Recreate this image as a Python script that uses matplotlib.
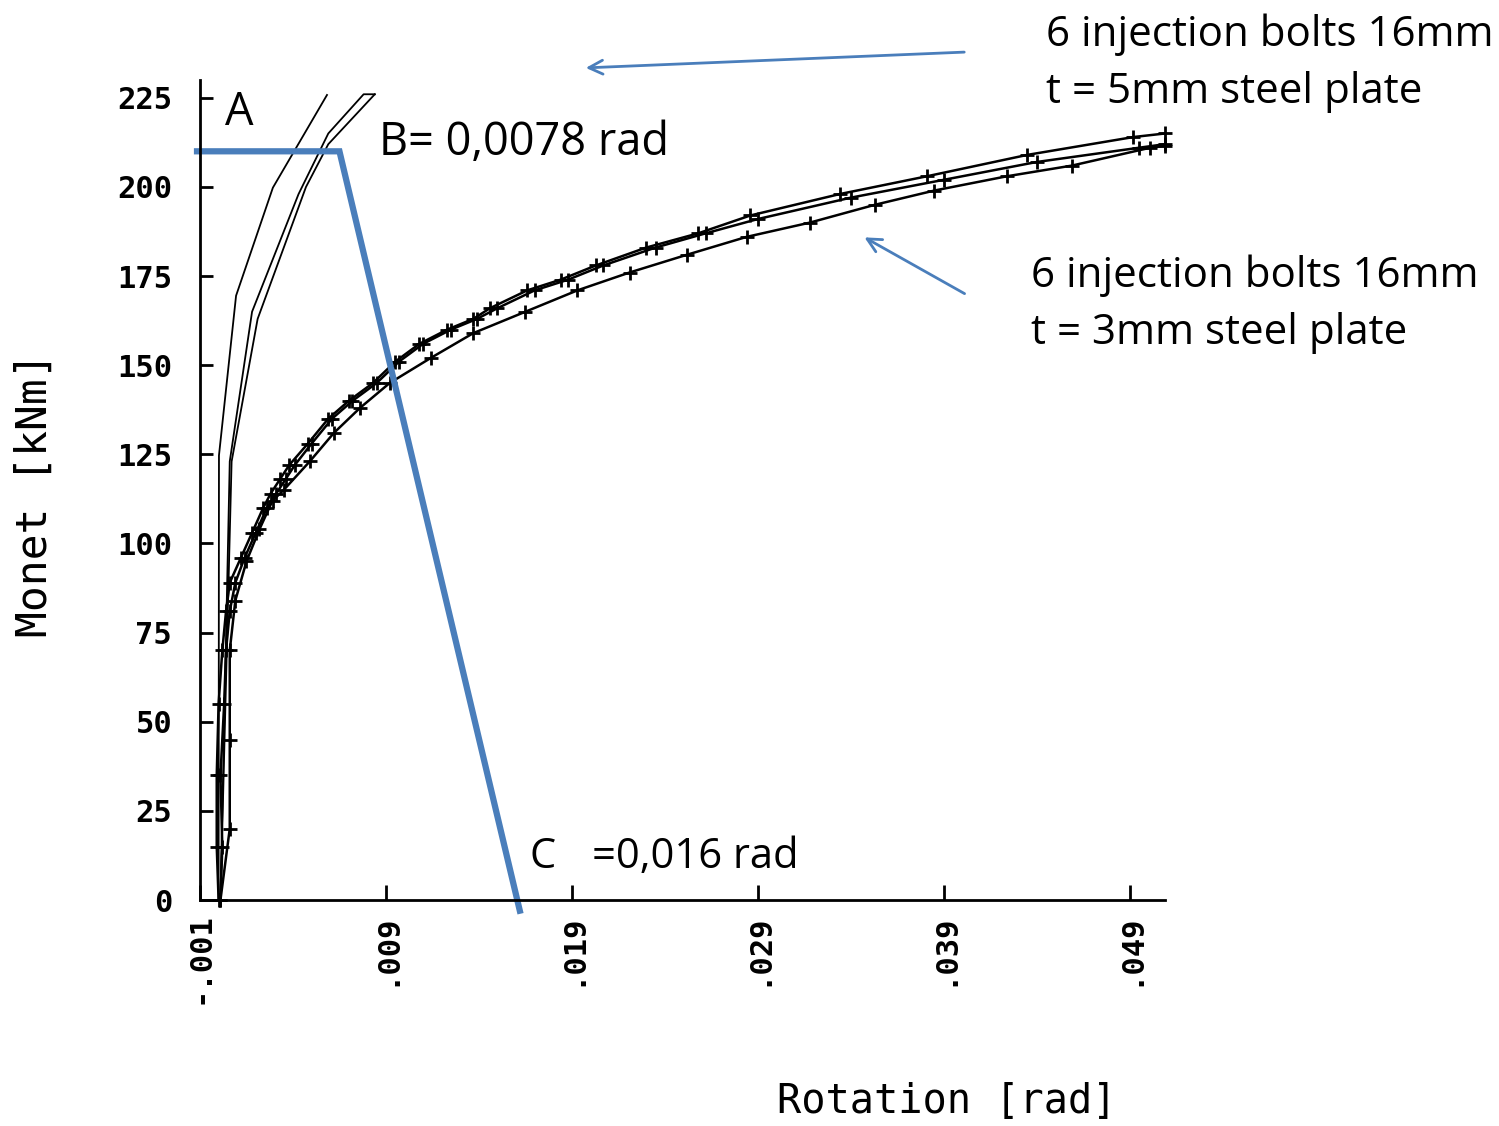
import matplotlib
matplotlib.use('Agg')
import matplotlib.pyplot as plt

# ---- data ----
# 5 mm plate: three curves without markers
p5_a_rot = [0.0, 0.00002, 0.00094, 0.00292, 0.00583]
p5_a_mom = [0, 124.7, 169.5, 199.8, 225.8]
p5_b_rot = [0.0001, 0.0006, 0.0018, 0.0043, 0.0059, 0.0078, 0.0084]
p5_b_mom = [0, 123, 165, 198, 215, 226, 226]
p5_c_rot = [0.0001, 0.0007, 0.0021, 0.0047, 0.0059, 0.0084]
p5_c_mom = [0, 123, 163, 200, 212, 226]

# 3 mm plate: three curves with + markers
p3_a_rot = [0.0, -0.0001, -0.0001, 0.0, 0.0002, 0.0004, 0.0006, 0.0012, 0.0018, 0.0024,
            0.0028, 0.0033, 0.0038, 0.0048, 0.0059, 0.0070, 0.0083, 0.0095, 0.0108, 0.0123,
            0.0137, 0.0146, 0.0166, 0.0184, 0.0203, 0.0230, 0.0258, 0.0286, 0.0334, 0.0381,
            0.0435, 0.0492, 0.0509]
p3_a_mom = [0, 15, 35, 55, 70, 81, 89, 96, 103, 110, 114, 118, 122, 128, 135, 140, 145,
            151, 156, 160, 163, 166, 171, 174, 178, 183, 187, 192, 198, 203, 209, 214, 215]
p3_b_rot = [0.0001, 0.0002, 0.0001, 0.0003, 0.0004, 0.0006, 0.0009, 0.0014, 0.0020, 0.0026,
            0.0031, 0.0036, 0.0041, 0.0050, 0.0061, 0.0072, 0.0085, 0.0097, 0.0110, 0.0125,
            0.0139, 0.0150, 0.0170, 0.0188, 0.0207, 0.0235, 0.0262, 0.0290, 0.0340, 0.0390,
            0.0440, 0.0495, 0.0509]
p3_b_mom = [0, 15, 35, 55, 70, 81, 89, 96, 103, 110, 114, 118, 122, 128, 135, 140, 145,
            151, 156, 160, 163, 166, 171, 174, 178, 183, 187, 191, 197, 202, 207, 211, 212]
p3_c_rot = [0.0001, 0.0006, 0.0006, 0.0006, 0.0009, 0.0015, 0.0022, 0.0029, 0.0035, 0.0049,
            0.0062, 0.0076, 0.0092, 0.0114, 0.0137, 0.0165, 0.0193, 0.0221, 0.0252, 0.0284,
            0.0318, 0.0353, 0.0385, 0.0424, 0.0459, 0.0501, 0.0509]
p3_c_mom = [0, 20, 45, 70, 84, 95, 104, 112, 115, 123, 131, 138, 145, 152, 159, 165, 171,
            176, 181, 186, 190, 195, 199, 203, 206, 211, 211.5]

# blue construction line A-B-C
abc_rot = [-0.00116, 0.0065, 0.0162]
abc_mom = [210, 210, -3]

xtick_vals = [-0.001, 0.009, 0.019, 0.029, 0.039, 0.049]
xtick_labels = ['-.001', '.009', '.019', '.029', '.039', '.049']
ytick_vals = [0, 25, 50, 75, 100, 125, 150, 175, 200, 225]
ytick_labels = ['0', '25', '50', '75', '100', '125', '150', '175', '200', '225']

# ---- figure ----
W, H = 1499, 1126
fig = plt.figure(figsize=(W / 100, H / 100), dpi=100)
ax = fig.add_axes([200 / W, 1 - 900 / H, 965 / W, 820 / H])
ax.set_xlim(-0.001, 0.0509)
ax.set_ylim(0, 230)

for s in ['top', 'right']:
    ax.spines[s].set_visible(False)
for s in ['left', 'bottom']:
    ax.spines[s].set_linewidth(2.0)

for xs, ys in [(p5_a_rot, p5_a_mom), (p5_b_rot, p5_b_mom), (p5_c_rot, p5_c_mom)]:
    ax.plot(xs, ys, color='black', lw=1.3, clip_on=False)
for xs, ys in [(p3_a_rot, p3_a_mom), (p3_b_rot, p3_b_mom), (p3_c_rot, p3_c_mom)]:
    ax.plot(xs, ys, color='black', lw=1.8, marker='+', ms=10, mew=2.0, clip_on=False)

ax.plot(abc_rot, abc_mom, color='#4a7ebb', lw=4.5, clip_on=False, solid_joinstyle='miter')

mono = 'DejaVu Sans Mono'
ax.set_xticks(xtick_vals)
ax.set_xticklabels(xtick_labels, rotation=90, family=mono, fontsize=22, va='top',
                   fontweight='bold')
ax.set_yticks(ytick_vals)
ax.set_yticklabels(ytick_labels, family=mono, fontsize=22, fontweight='bold')
ax.tick_params(axis='x', direction='in', length=11, width=2, pad=9)
ax.tick_params(axis='y', direction='in', length=9, width=2, pad=20)

fig.text(35 / W, 1 - 495 / H, 'Monet [kNm]', rotation=90, family=mono, fontsize=31,
         ha='center', va='center')
fig.text(947 / W, 1 - 1102 / H, 'Rotation [rad]', family=mono, fontsize=29,
         ha='center', va='center')

# annotation texts
tf = dict(family='Open Sans', fontsize=30.3, color='black', va='center', ha='left')
fig.text(1046 / W, 1 - 35 / H, '6 injection bolts 16mm', **tf)
fig.text(1046 / W, 1 - 92 / H, 't = 5mm steel plate', **tf)
fig.text(1031 / W, 1 - 276 / H, '6 injection bolts 16mm', **tf)
fig.text(1031 / W, 1 - 333 / H, 't = 3mm steel plate', **tf)
tb = dict(tf, fontsize=32.5)
fig.text(225 / W, 1 - 113 / H, 'A', **tb)
fig.text(379 / W, 1 - 143 / H, 'B= 0,0078 rad', **tb)
tc = dict(tf, fontsize=30)
fig.text(529 / W, 1 - 857 / H, 'C', **tc)
fig.text(592 / W, 1 - 857 / H, '=0,016 rad', **tc)

# blue arrows
ap = dict(arrowstyle='->,head_length=1.0,head_width=0.5', color='#4a7ebb', lw=2)
ax.annotate('', xy=(583 / W, 1 - 68 / H), xytext=(967 / W, 1 - 52 / H),
            xycoords='figure fraction', textcoords='figure fraction', arrowprops=ap)
ax.annotate('', xy=(862 / W, 1 - 236 / H), xytext=(967 / W, 1 - 295 / H),
            xycoords='figure fraction', textcoords='figure fraction', arrowprops=ap)

fig.savefig('out.png', dpi=100)
